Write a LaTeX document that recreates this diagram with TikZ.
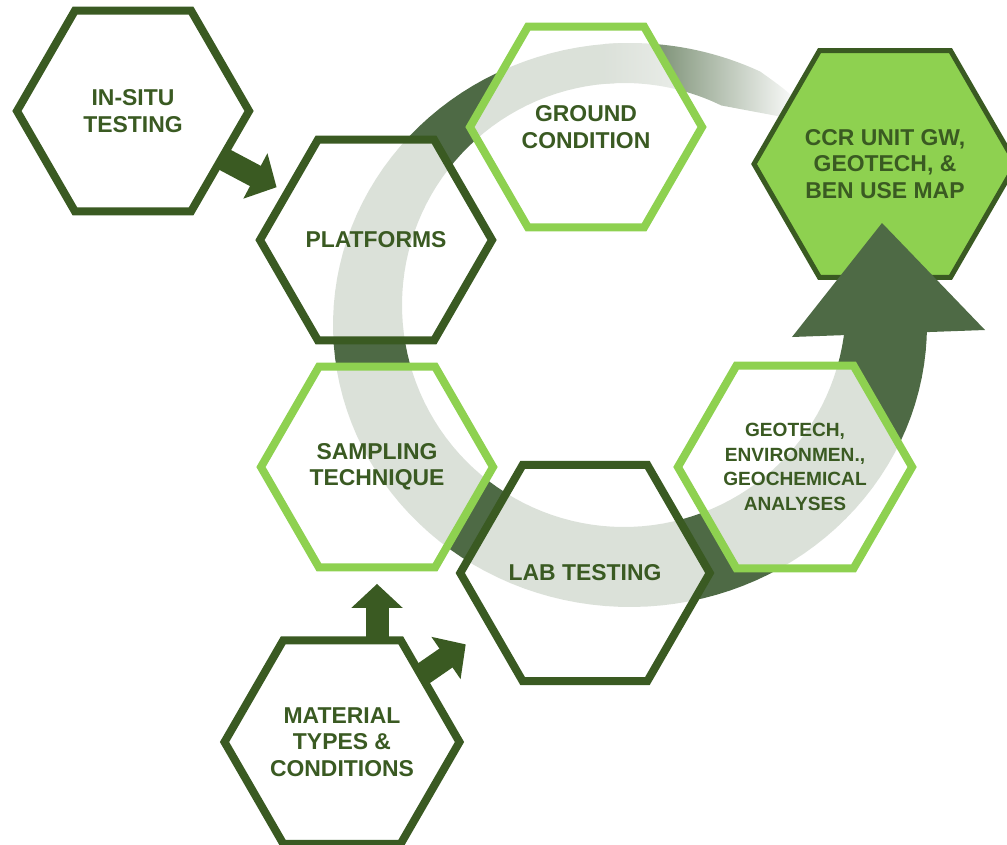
\documentclass[tikz,border=0pt]{standalone}
\usepackage{fontspec}
\setmainfont{Liberation Sans}
\usetikzlibrary{arrows.meta, shapes.geometric, calc}

\definecolor{hexdark}{HTML}{3A5A22}
\definecolor{ringgreen}{HTML}{4E6A45}
\definecolor{leafgreen}{HTML}{8ED150}

\begin{document}
\begin{tikzpicture}[x=0.025cm, y=-0.025cm,
  cell/.style={regular polygon, regular polygon sides=6, minimum size=5.8cm, inner sep=0pt,
    line width=0.2cm, fill=white, fill opacity=0.8, text opacity=1, text=hexdark, align=center,
    font=\bfseries\fontsize{16.3}{18.8}\selectfont},
  darkcell/.style={cell, draw=hexdark},
  lightcell/.style={cell, draw=leafgreen},
  goalcell/.style={cell, draw=hexdark, fill=leafgreen, fill opacity=1, line width=0.125cm, minimum size=5.75cm},
  fatarrow/.style={draw=hexdark, line width=0.575cm, -{Triangle[width=1.25cm, length=0.6cm]}}]
\useasboundingbox (0,0) rectangle (1007,844);
\fill[ringgreen] plot[domain=0:268, samples=100, variable=\t] ({630+297*cos(\t)}, {325+282*sin(\t)})
  -- plot[domain=0:1, samples=100, variable=\s] ({624+222*cos(268-262.8*\s)}, {305+222*sin(268-262.8*\s)}) -- cycle;
\shade[left color=ringgreen, middle color=ringgreen!55!white, right color=white]
  plot[domain=265:296, samples=30, variable=\t] ({630+297*cos(\t)}, {325+282*sin(\t)})
  .. controls (800,100) .. (788,118)
  -- plot[domain=0:1, samples=30, variable=\s] ({624+222*cos(296-31*\s)}, {305+222*sin(296-31*\s)}) -- cycle;
\node[goalcell] (ccrmap) at (885,164) {CCR UNIT GW,\\GEOTECH, \&\\BEN USE MAP};
\fill[ringgreen] (792,337) -- (882,223) -- (985,330) -- cycle;
\node[darkcell] (insitu) at (133,111) {IN-SITU\\TESTING};
\node[darkcell] (platforms) at (376,240) {PLATFORMS};
\node[lightcell] (ground) at (586,127) {GROUND\\CONDITION};
\node[lightcell] (sampling) at (377,467) {SAMPLING\\TECHNIQUE};
\node[darkcell] (lab) at (585,573) {LAB TESTING};
\node[lightcell, font=\bfseries\fontsize{13.6}{17.5}\selectfont] (analyses) at (795,467) {GEOTECH,\\ENVIRONMEN.,\\GEOCHEMICAL\\ANALYSES};
\node[darkcell] (material) at (342,742) {MATERIAL\\TYPES \&\\CONDITIONS};
\draw[fatarrow, shorten <=-0.1cm, shorten >=0.2cm] (insitu) -- (platforms);
\draw[fatarrow, shorten <=-0.1cm, shorten >=0.31cm] (material.north -| sampling.south) -- (sampling.south);
\draw[fatarrow, shorten <=-0.1cm, shorten >=0.675cm] (material.40) -- (lab.210);
\end{tikzpicture}
\end{document}
